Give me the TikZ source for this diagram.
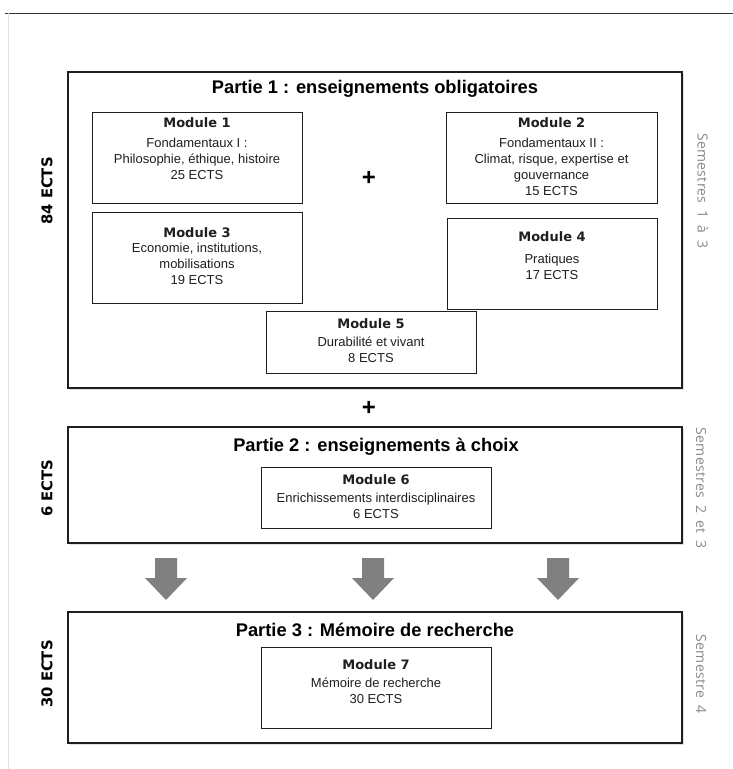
\documentclass[tikz,border=0pt]{standalone}
\usepackage{fontspec}
\setmainfont{Liberation Sans}
\newfontfamily\dejavufont{DejaVu Sans}
\newfontfamily\semfont{Open Sans}[LetterSpace=2,WordSpace=1.8]
\usetikzlibrary{shadows,calc}
\definecolor{boxline}{HTML}{1E1E1E}
\definecolor{arrowgray}{HTML}{808080}
\definecolor{semgray}{HTML}{8A8A8A}
\tikzset{
  partbox/.style={draw=boxline, line width=2pt, fill=white, inner sep=0pt,
    drop shadow={shadow xshift=1.5pt, shadow yshift=-1.5pt, opacity=0.25}},
  modbox/.style={draw=boxline, line width=0.9pt, fill=white, inner sep=0pt,
    drop shadow={shadow xshift=1.2pt, shadow yshift=-1.2pt, opacity=0.3}},
  modtext/.style={anchor=north, inner sep=0pt, align=center, text=black!88,
    font=\fontsize{13}{16}\selectfont},
  parttitle/.style={inner sep=0pt, font=\bfseries\fontsize{18.3}{20}\selectfont},
  ectslabel/.style={inner sep=0pt, rotate=90, font=\dejavufont\bfseries\fontsize{14.8}{16}\selectfont},
  semlabel/.style={inner sep=0pt, rotate=-90, text=semgray, font=\semfont\fontsize{14}{16}\selectfont},
  plussign/.style={inner sep=0pt, font=\bfseries\fontsize{24}{24}\selectfont},
  blockarrow/.style={fill=arrowgray}
}
\newcommand{\modtitle}[1]{{\dejavufont\bfseries #1}}
\begin{document}
\begin{tikzpicture}[x=1pt,y=-1pt]
\useasboundingbox (0,0) rectangle (733,769);
\fill[white] (0,0) rectangle (733,769);
% page frame lines
\coordinate (tl) at (5,13);
\coordinate (tr) at (733,13);
\coordinate (lt) at (8,13);
\coordinate (lb) at (8,769);
\draw[line width=1pt, black!80] (tl) -- (tr);
\draw[line width=0.8pt, black!12] (lt) -- (lb);

% Parts
\node[partbox, minimum width=614pt, minimum height=316pt] (p1) at (375,230) {};
\node[partbox, minimum width=614pt, minimum height=116pt] (p2) at (375,485) {};
\node[partbox, minimum width=614pt, minimum height=131pt] (p3) at (375,677.5) {};

\node[parttitle] (p1t) at (375,89) {Partie 1 : enseignements obligatoires};
\node[parttitle] (p2t) at (376,447) {Partie 2 : enseignements à choix};
\node[parttitle] (p3t) at (375,630) {Partie 3 : Mémoire de recherche};

% Modules
\node[modbox, minimum width=210pt, minimum height=91pt] (m1) at (197,157.5) {};
\node[modbox, minimum width=211pt, minimum height=91pt] (m2) at (551.5,157.5) {};
\node[modbox, minimum width=210pt, minimum height=91pt] (m3) at (197,257.5) {};
\node[modbox, minimum width=210pt, minimum height=91pt] (m4) at (552,263.5) {};
\node[modbox, minimum width=210pt, minimum height=62pt] (m5) at (371,342) {};
\node[modbox, minimum width=230pt, minimum height=61pt] (m6) at (376,497.5) {};
\node[modbox, minimum width=230pt, minimum height=81pt] (m7) at (376,687.5) {};

\node[modtext] (m1t) at ($(m1.north)+(0,5.8)$) {\modtitle{Module 1}\\[4pt]Fondamentaux I :\\Philosophie, éthique, histoire\\25 ECTS};
\node[modtext] (m2t) at ($(m2.north)+(0,5.8)$) {\modtitle{Module 2}\\[4pt]Fondamentaux II :\\Climat, risque, expertise et\\gouvernance\\15 ECTS};
\node[modtext] (m3t) at ($(m3.north)+(0,15.8)$) {\modtitle{Module 3}\\[-1pt]Economie, institutions,\\mobilisations\\19 ECTS};
\node[modtext] (m4t) at ($(m4.north)+(0,13.8)$) {\modtitle{Module 4}\\[6pt]Pratiques\\17 ECTS};
\node[modtext] (m5t) at ($(m5.north)+(0,7.8)$) {\modtitle{Module 5}\\[2pt]Durabilité et vivant\\8 ECTS};
\node[modtext] (m6t) at ($(m6.north)+(0,7.8)$) {\modtitle{Module 6}\\[2pt]Enrichissements interdisciplinaires\\6 ECTS};
\node[modtext] (m7t) at ($(m7.north)+(0,12.8)$) {\modtitle{Module 7}\\[2pt]Mémoire de recherche\\30 ECTS};

% plus signs
\node[plussign] (plus1) at (369,178) {+};
\node[plussign] (plus2) at (369,408) {+};

% side labels
\node[ectslabel] (e1) at (47,191) {84 ECTS};
\node[ectslabel] (e2) at (47,488) {6 ECTS};
\node[ectslabel] (e3) at (47,674) {30 ECTS};
\node[semlabel] (s1) at (703,191) {Semestres 1 à 3};
\node[semlabel] (s2) at (701,488) {Semestres 2 et 3};
\node[semlabel] (s3) at (701,674) {Semestre 4};

% block arrows
\foreach \cx in {166,373,558}{
  \fill[blockarrow] (\cx-11,558) -- (\cx+11,558) -- (\cx+11,578) -- (\cx+21,578)
     -- (\cx,600) -- (\cx-21,578) -- (\cx-11,578) -- cycle;
}
\end{tikzpicture}
\end{document}
